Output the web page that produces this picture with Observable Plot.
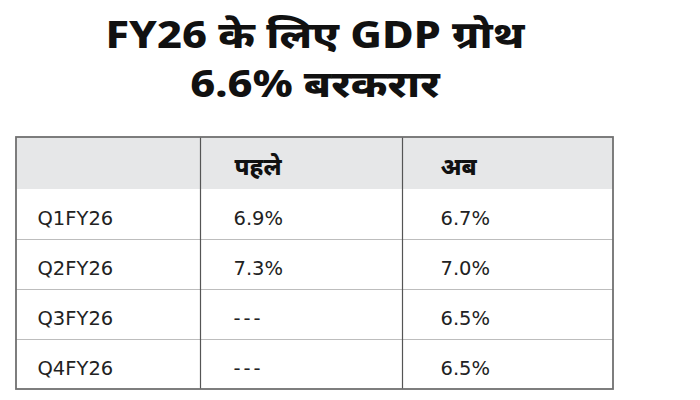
<!DOCTYPE html>
<html>
<head>
<meta charset="utf-8">
<script src="https://cdn.jsdelivr.net/npm/d3@7"></script>
<script src="https://cdn.jsdelivr.net/npm/@observablehq/plot@0.6"></script>
<style>
  html, body { margin: 0; padding: 0; background: #fff; }
  #wrap { width: 700px; }
  .titlebox {
    width: 630px;
    height: 128px;
    box-sizing: border-box;
    padding-top: 9px;
    text-align: center;
    overflow: visible;
  }
  .title {
    display: inline-block;
    font-family: "Noto Sans", "Open Sans", sans-serif;
    font-weight: 800;
    font-size: 37px;
    line-height: 49px;
    color: #111;
    transform: scaleX(1.17);
    transform-origin: 50% 0;
  }
  svg { display: block; }
</style>
</head>
<body>
<div id="wrap">
  <div class="titlebox"><div class="title">FY26 के लिए GDP ग्रोथ<br>6.6% बरकरार</div></div>
  <div id="chart"></div>
</div>
<script>
// ---- data ----
const headers = ["", "पहले", "अब"];
const quarters = ["Q1FY26", "Q2FY26", "Q3FY26", "Q4FY26"];
const before = [6.9, 7.3, null, null];   // पहले
const now = [6.7, 7.0, 6.5, 6.5];        // अब

const fmt = v => v == null ? "---" : v.toFixed(1) + "%";

const rows = quarters.map((q, i) => ({row: i + 1, q, before: fmt(before[i]), now: fmt(now[i])}));
const headerCells = headers.map((h, i) => ({col: i, label: h}));

const font = "'DejaVu Sans', 'Open Sans', sans-serif";
const hfont = "'Noto Sans', 'Open Sans', sans-serif";

const chart = Plot.plot({
  width: 700,
  height: 272,
  margin: 0,
  x: {type: "linear", domain: [0, 1, 2, 3], range: [16, 200, 402, 613], axis: null},
  y: {type: "linear", domain: [0, 1, 5], range: [9, 61, 261], axis: null},
  marks: [
    // header background
    Plot.rect(headerCells, {x1: "col", x2: d => d.col + 1, y1: 0, y2: 1, fill: "#e6e7e8"}),
    // horizontal row separators
    Plot.ruleY([2, 3, 4], {x1: 0, x2: 3, stroke: "#bdbdbd", strokeWidth: 1.2}),
    // vertical column dividers
    Plot.ruleX([1, 2], {y1: 0, y2: 5, stroke: "#555", strokeWidth: 1.2}),
    // outer border
    Plot.rect([0], {x1: 0, x2: 3, y1: 0, y2: 5, fill: "none", stroke: "#707070", strokeWidth: 1.8}),
    // header labels
    Plot.text(headerCells.filter(d => d.col === 1), {
      x: "col", y: 0.5, text: "label", textAnchor: "start", dx: 34, dy: 4,
      fontSize: 24, fontWeight: 800, fill: "#111", fontFamily: hfont
    }),
    Plot.text(headerCells.filter(d => d.col === 2), {
      x: "col", y: 0.5, text: "label", textAnchor: "start", dx: 38, dy: 4,
      fontSize: 24, fontWeight: 800, fill: "#111", fontFamily: hfont
    }),
    // body text
    Plot.text(rows, {x: 0, y: d => d.row + 0.5, text: "q", textAnchor: "start", dx: 21, dy: 4,
      fontSize: 19.5, fill: "#222", fontFamily: font}),
    Plot.text(rows, {x: 1, y: d => d.row + 0.5, text: "before", textAnchor: "start", dx: 33, dy: 4,
      fontSize: 19.5, fill: "#222", fontFamily: font}),
    Plot.text(rows, {x: 2, y: d => d.row + 0.5, text: "now", textAnchor: "start", dx: 38, dy: 4,
      fontSize: 19.5, fill: "#222", fontFamily: font})
  ]
});
// widen the "---" placeholders like the reference
d3.select(chart).selectAll("text").filter(function() { return this.textContent === "---"; })
  .style("letter-spacing", "3px");
document.getElementById("chart").appendChild(chart);
</script>
</body>
</html>
